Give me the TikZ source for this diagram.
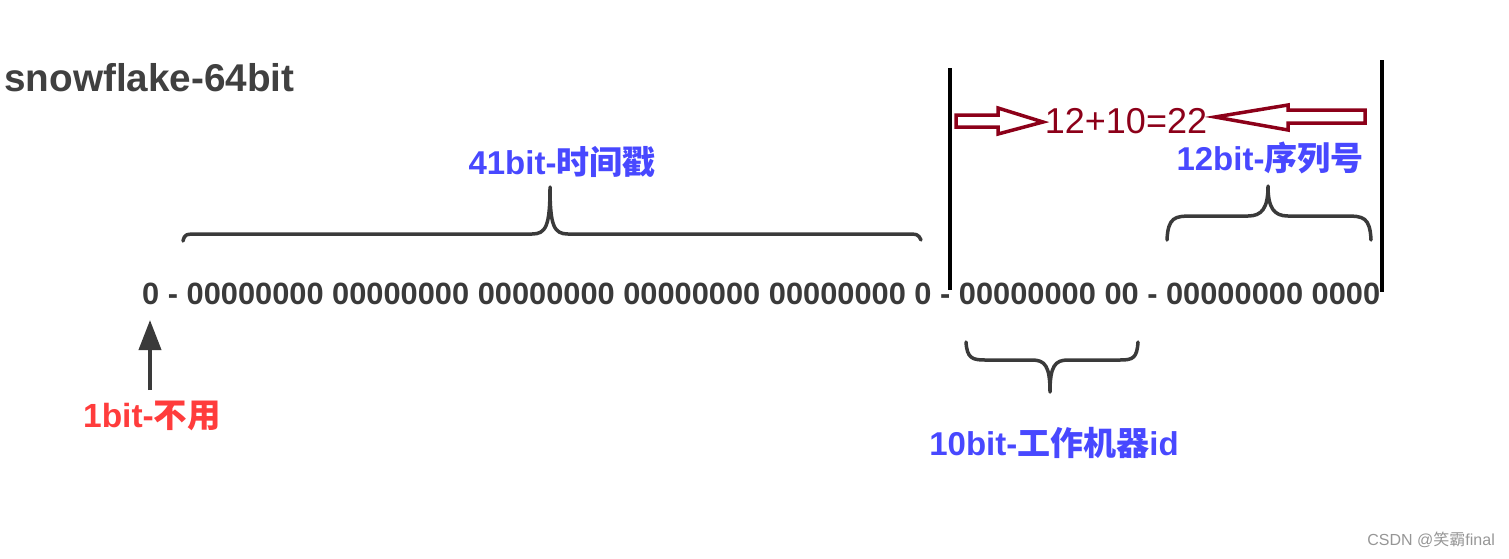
\documentclass[tikz,border=0pt]{standalone}
\usepackage{fontspec}
\setmainfont{Liberation Sans}
\newfontfamily\cjk{Noto Sans CJK SC}
\usetikzlibrary{arrows.meta}
\definecolor{txtgray}{RGB}{58,58,58}
\definecolor{titlegray}{RGB}{64,64,64}
\definecolor{lblblue}{RGB}{72,72,255}
\definecolor{lblred}{RGB}{255,60,60}
\definecolor{darkred}{RGB}{140,0,25}
\definecolor{wmgray}{RGB}{150,150,150}
\tikzset{
  bracepath/.style={draw=txtgray, line width=3.5pt, line cap=round, line join=round},
  bluelbl/.style={text=lblblue, font=\fontsize{33}{35}\selectfont\bfseries, inner sep=0pt},
  hollow/.style={draw=darkred, line width=3.5pt, fill=white, line join=miter},
  divider/.style={draw=black, line width=4pt},
}
\begin{document}
\begin{tikzpicture}[x=1pt,y=-1pt]
\useasboundingbox (0,0) rectangle (1509,558);
% title
\node[anchor=west, inner sep=0pt, text=titlegray, font=\fontsize{38.7}{40}\selectfont\bfseries] (title) at (4,78) {snowflake-64bit};
% bit row
\node[anchor=base west, inner sep=0pt, text=txtgray, font=\fontsize{30.8}{32}\selectfont\bfseries] (bits) at (142,304)
  {0 - 00000000 00000000 00000000 00000000 00000000 0 - 00000000 00 - 00000000 0000};
% dividers
\coordinate (d1t) at (950,68); \coordinate (d1b) at (950,290);
\coordinate (d2t) at (1382,60); \coordinate (d2b) at (1382,292);
\draw[divider] (d1t) -- (d1b);
\draw[divider] (d2t) -- (d2b);
% 41bit brace
\draw[bracepath] (183,241) .. controls (185,234) .. (200,234) -- (532,234)
  .. controls (546,234) and (550,226) .. (550,187)
  .. controls (550,226) and (554,234) .. (568,234) -- (904,234)
  .. controls (918,234) .. (921,240);
\node[bluelbl] (l41) at (562,162) {41bit-{\cjk 时间戳}};
% 12bit brace
\draw[bracepath] (1167,240) .. controls (1168,217) and (1175,216) .. (1192,216) -- (1248,216)
  .. controls (1262,216) and (1268,208) .. (1268,186)
  .. controls (1268,208) and (1274,216) .. (1288,216) -- (1346,216)
  .. controls (1363,216) and (1370,217) .. (1371,240);
\node[bluelbl] (l12) at (1270,158) {12bit-{\cjk 序列号}};
% 10bit brace
\draw[bracepath] (966,342) .. controls (967,358) and (972,360) .. (985,360) -- (1032,360)
  .. controls (1045,360) and (1050,366) .. (1050,392)
  .. controls (1050,366) and (1055,360) .. (1068,360) -- (1120,360)
  .. controls (1133,360) and (1137,358) .. (1138,342);
\node[bluelbl] (l10) at (1054,443) {10bit-{\cjk 工作机器}id};
% 1bit arrow and label
\node[text=lblred, font=\fontsize{33.5}{35}\selectfont\bfseries, inner sep=0pt] (l1) at (152,416) {1bit-{\cjk 不用}};
\coordinate (a0) at (150,390); \coordinate (a1) at (150,320);
\draw[draw=txtgray, line width=4pt, -{Triangle[width=22pt,length=30pt]}] (a0) -- (a1);
% sum label and hollow arrows
\node[text=darkred, font=\fontsize{36}{38}\selectfont, inner sep=0pt] (sum) at (1126,121) {12+10=22};
\draw[hollow] (956,115) -- (998,115) -- (998,108) -- (1043,122) -- (998,134) -- (998,127) -- (956,127) -- cycle;
\draw[hollow] (1365,110) -- (1288,110) -- (1288,105) -- (1215,117) -- (1288,130) -- (1288,123) -- (1365,123) -- cycle;
% watermark
\node[anchor=east, text=wmgray, font=\fontsize{16}{18}\selectfont, inner sep=0pt] (wm) at (1495,540) {CSDN @{\cjk 笑霸}final};
\end{tikzpicture}
\end{document}
